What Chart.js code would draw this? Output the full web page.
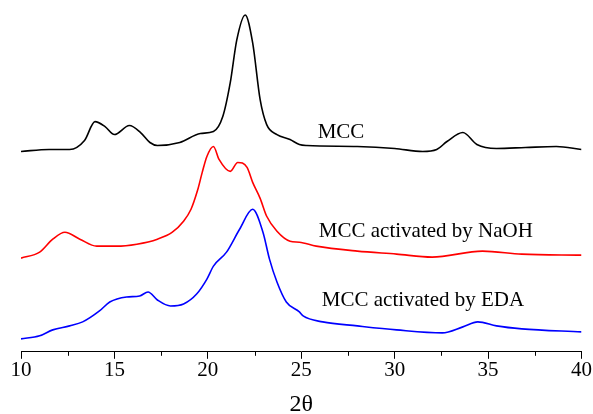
<!DOCTYPE html>
<html>
<head>
<meta charset="utf-8">
<script src="https://cdn.jsdelivr.net/npm/chart.js@4"></script>
<style>
  html, body { margin: 0; padding: 0; background: #fff; }
  #wrap { width: 593px; height: 414px; }
</style>
</head>
<body>
<div id="wrap"><canvas id="myChart" width="593" height="414"></canvas></div>
<script>
// 2theta positions and intensities (arbitrary units, curves already offset)
const mccX = [10, 11.5, 12.6, 13.4, 13.96, 14.5, 15.0, 15.8, 16.4, 16.9, 17.3, 18.5, 19.6, 20.3, 20.8, 21.2, 21.55, 22.0, 22.4, 22.8, 23.15, 23.7, 24.4, 24.9, 25.3, 28.0, 30.0, 31.5, 32.25, 32.8, 33.65, 34.4, 35.45, 37.0, 38.65, 40];
const mccY = [201, 203, 203, 212, 231, 226, 218, 227, 220, 210, 207, 210, 219, 221, 236, 270, 313, 338, 310, 253, 228, 218, 213, 208, 207, 206, 204, 201, 203, 211, 220, 208, 204, 205, 206, 203];

const naohX = [10, 11, 11.7, 12.35, 13.15, 14.05, 15.1, 16.2, 17.3, 18.1, 18.7, 19.1, 19.45, 19.7, 19.95, 20.3, 20.6, 21.2, 21.6, 22.1, 22.4, 22.8, 23.15, 23.7, 24.4, 24.9, 25.8, 28.0, 30.1, 32.0, 34.7, 36.8, 40];
const naohY = [94, 100, 113, 120, 113, 106, 106, 108, 113, 120, 131, 143, 162, 180, 196, 206, 193, 181, 190, 185, 170, 154, 136, 121, 111, 110, 106, 101, 98, 95, 101, 98, 97];

const edaX = [10, 11, 11.7, 12.6, 13.3, 14.2, 14.75, 15.65, 16.35, 16.8, 17.3, 18.0, 18.7, 19.4, 19.95, 20.3, 21.0, 21.7, 22.4, 22.95, 23.3, 23.7, 24.2, 24.9, 25.1, 26.15, 28.0, 30.1, 32.55, 33.65, 34.45, 35.45, 36.8, 40];
const edaY = [13, 16, 22, 26, 30, 41, 50, 55, 56, 60, 52, 46, 48, 58, 73, 86, 100, 123, 143, 120, 93, 70, 50, 40, 36, 30, 26, 22, 19, 25, 30, 26, 23, 20];

const xTicks = [10, 15, 20, 25, 30, 35, 40];
const minorTicks = [12.5, 17.5, 22.5, 27.5, 32.5, 37.5];

// curve labels: [text, x (2theta), y (intensity)]
const curveLabels = [
  ['MCC', 25.88, 220],
  ['MCC activated by NaOH', 25.94, 121],
  ['MCC activated by EDA', 26.1, 51]
];

function zip(xs, ys) {
  return xs.map((x, i) => ({ x: x, y: ys[i] }));
}

const labelPlugin = {
  id: 'curveLabels',
  afterDatasetsDraw(chart) {
    const ctx = chart.ctx;
    const xs = chart.scales.x, ys = chart.scales.y;
    ctx.save();
    ctx.font = '21px "Liberation Serif"';
    ctx.fillStyle = '#000';
    ctx.textBaseline = 'middle';
    ctx.textAlign = 'left';
    curveLabels.forEach(l => {
      ctx.fillText(l[0], xs.getPixelForValue(l[1]), ys.getPixelForValue(l[2]));
    });
    // minor ticks
    ctx.strokeStyle = '#000';
    ctx.lineWidth = 1;
    const y0 = xs.top;
    minorTicks.forEach(t => {
      const px = Math.round(xs.getPixelForValue(t)) + 0.5;
      ctx.beginPath();
      ctx.moveTo(px, y0);
      ctx.lineTo(px, y0 + 4);
      ctx.stroke();
    });
    ctx.restore();
  }
};

const data = {
  datasets: [{
    label: 'MCC',
    data: zip(mccX, mccY),
    borderColor: '#000000'
  }, {
    label: 'MCC activated by NaOH',
    data: zip(naohX, naohY),
    borderColor: '#ff0000'
  }, {
    label: 'MCC activated by EDA',
    data: zip(edaX, edaY),
    borderColor: '#0000ff'
  }]
};

const config = {
  type: 'line',
  data: data,
  options: {
    responsive: false,
    animation: false,
    elements: {
      line: { borderWidth: 1.6, cubicInterpolationMode: 'monotone', fill: false },
      point: { radius: 0 }
    },
    layout: { padding: { left: 21, right: 11, top: 0, bottom: 0 } },
    plugins: { legend: { display: false }, tooltip: { enabled: false } },
    scales: {
      x: {
        type: 'linear',
        min: 10,
        max: 40,
        afterBuildTicks: axis => { axis.ticks = xTicks.map(v => ({ value: v })); },
        border: { display: true, color: '#000', width: 1 },
        grid: { display: true, drawOnChartArea: false, tickLength: 7, tickColor: '#000', tickWidth: 1 },
        ticks: { color: '#000', font: { family: 'Liberation Serif', size: 21, lineHeight: 1 }, padding: 1, maxRotation: 0 },
        title: { display: true, text: '2θ', color: '#000', font: { family: 'Liberation Serif', size: 24, lineHeight: 0.8 }, padding: { top: 13, bottom: 0 } }
      },
      y: {
        display: false,
        min: 0,
        max: 353
      }
    }
  },
  plugins: [labelPlugin]
};

const myChart = new Chart(document.getElementById('myChart'), config);
</script>
</body>
</html>
